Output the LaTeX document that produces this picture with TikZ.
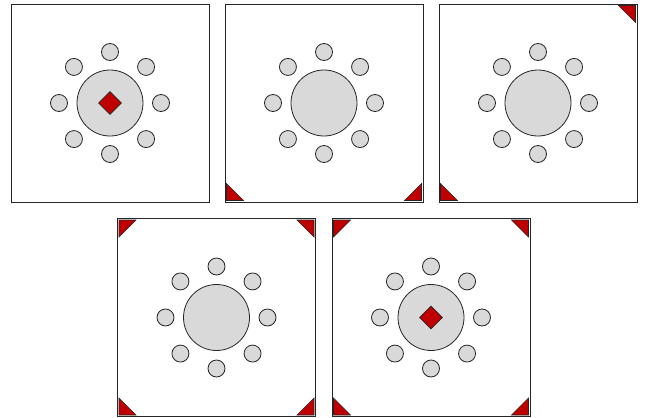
\documentclass[tikz,border=0pt]{standalone}
\usetikzlibrary{shapes.geometric,calc}
\definecolor{tablegray}{HTML}{D9D9D9}
\definecolor{markred}{HTML}{C00000}
\tikzset{
  x=1pt, y=-1pt,
  frame/.style={draw=black!85, line width=1pt, fill=white, minimum size=198pt, inner sep=0pt, shape=rectangle},
  bigtable/.style={circle, draw=black!85, fill=tablegray, line width=0.8pt, minimum size=66pt, inner sep=0pt},
  seat/.style={circle, draw=black!85, fill=tablegray, line width=0.8pt, minimum size=17pt, inner sep=0pt},
  center mark/.style={diamond, draw=black!85, fill=markred, line width=0.8pt, minimum size=23pt, inner sep=0pt},
  corner mark/.style={draw=black!85, fill=markred, line width=0.6pt, line join=miter}
}
\newcommand\drawpanel[3]{% name, cx, cy
  \node[frame] (#1) at (#2,#3) {};
  \node[bigtable] (#1t) at (#2,#3) {};
  \foreach \a [count=\i] in {90,45,0,-45,-90,-135,180,135}
    \node[seat] (#1s\i) at ($(#2,#3)+(\a:51pt)$) {};
}
\newcommand\tl[1]{\draw[corner mark] ($(#1.north west)+(2,2)$) -- ++(17,0) -- ++(-17,17) -- cycle;}
\newcommand\tr[1]{\draw[corner mark] ($(#1.north east)+(-2,2)$) -- ++(-17,0) -- ++(17,17) -- cycle;}
\newcommand\bl[1]{\draw[corner mark] ($(#1.south west)+(2,-2)$) -- ++(17,0) -- ++(-17,-17) -- cycle;}
\newcommand\br[1]{\draw[corner mark] ($(#1.south east)+(-2,-2)$) -- ++(-17,0) -- ++(17,-17) -- cycle;}
\begin{document}
\begin{tikzpicture}
\useasboundingbox[fill=white] (0,0) rectangle (649,418);
\drawpanel{pa}{110}{103}
\node[center mark] (pad) at (pa) {};
\drawpanel{pb}{324}{103}
\bl{pb}\br{pb}
\drawpanel{pc}{538}{103}
\tr{pc}\bl{pc}
\drawpanel{pd}{216.5}{317.5}
\tl{pd}\tr{pd}\bl{pd}\br{pd}
\drawpanel{pe}{431}{317.5}
\tl{pe}\tr{pe}\bl{pe}\br{pe}
\node[center mark] (ped) at (pe) {};
\end{tikzpicture}
\end{document}
